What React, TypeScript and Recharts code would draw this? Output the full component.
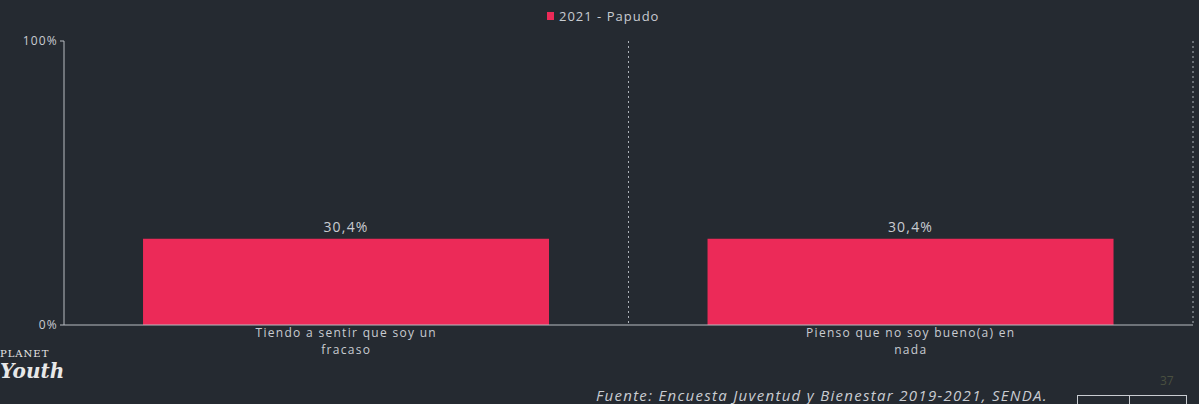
import { BarChart, Bar, XAxis, YAxis, CartesianGrid, Legend, LabelList } from "recharts";

const categories = ["Tiendo a sentir que soy un fracaso", "Pienso que no soy bueno(a) en nada"];
const tickLines = [
  ["Tiendo a sentir que soy un", "fracaso"],
  ["Pienso que no soy bueno(a) en", "nada"],
];
const papudo2021 = [30.4, 30.4];
const yTicks = [0, 100];

const BG = "#252a31";
const TXT = "#c9ccd1";
const BAR = "#ec2a58";
const FONT = "'Open Sans', sans-serif";

const data = categories.map((c, i) => ({ name: c, v: papudo2021[i] }));

function CatTick(props: any) {
  const { x, y, index } = props;
  const lines = tickLines[index] || [];
  return (
    <g>
      {lines.map((l, k) => (
        <text key={k} x={x} y={y + 4 + k * 16.5} textAnchor="middle" fill={TXT} fontSize={12} fontFamily={FONT} style={{ letterSpacing: 1.3 }}>
          {l}
        </text>
      ))}
    </g>
  );
}

function LegendBox() {
  return (
    <div style={{ display: "flex", alignItems: "center", color: TXT, fontSize: 13, letterSpacing: 1, fontFamily: FONT }}>
      <span style={{ width: 7, height: 8, background: BAR, display: "inline-block", marginRight: 5 }} />
      2021 - Papudo
    </div>
  );
}

export default function App() {
  return (
    <div style={{ position: "absolute", left: 0, top: 0, width: 1199, height: 404, background: BG, overflow: "hidden" }}>
      <BarChart
        width={1199}
        height={404}
        data={data}
        margin={{ top: 23, right: 6, bottom: 39, left: 8 }}
        barCategoryGap="14%"
      >
        <Legend
          verticalAlign="top"
          content={() => <LegendBox />}
          wrapperStyle={{ position: "absolute", top: 7, left: 547, width: 150 }}
        />
        <CartesianGrid
          horizontal={false}
          stroke="#aeb3ba"
          strokeDasharray="2 3"
          verticalCoordinatesGenerator={({ offset }: any) => [offset.left + offset.width / 2, offset.left + offset.width]}
        />
        <XAxis
          dataKey="name"
          height={40}
          interval={0}
          tickLine={false}
          axisLine={{ stroke: "#b9bcc2" }}
          tick={<CatTick />}
        />
        <YAxis
          width={56}
          domain={[0, 100]}
          ticks={yTicks}
          tickFormatter={(v: number) => `${v}%`}
          axisLine={{ stroke: "#b9bcc2" }}
          tickLine={{ stroke: "#b9bcc2" }}
          tickSize={4}
          tick={{ fill: TXT, fontSize: 12, fontFamily: FONT, style: { letterSpacing: 1.2 } }}
        />
        <Bar dataKey="v" fill={BAR} isAnimationActive={false}>
          <LabelList
            dataKey="v"
            position="top"
            offset={7}
            formatter={(v: any) => `${String(v).replace(".", ",")}%`}
            style={{ fill: TXT, fontSize: 14, letterSpacing: 1.2, fontFamily: FONT }}
          />
        </Bar>
      </BarChart>
      <div style={{ position: "absolute", left: 0, top: 349, color: "#e8e8e8", fontFamily: "'DejaVu Serif', serif", lineHeight: 1 }}>
        <div style={{ fontSize: 10, letterSpacing: 1 }}>PLANET</div>
        <div style={{ fontSize: 20, fontStyle: "italic", fontWeight: "bold", marginTop: 2 }}>Youth</div>
      </div>
      <div style={{ position: "absolute", left: 1160, top: 372, color: "#4a5040", fontSize: 12, fontFamily: FONT }}>37</div>
      <div
        style={{
          position: "absolute",
          left: 596,
          top: 385,
          color: TXT,
          fontSize: 15,
          letterSpacing: 1.3,
          fontStyle: "italic",
          fontFamily: FONT,
          whiteSpace: "nowrap",
        }}
      >
        Fuente: Encuesta Juventud y Bienestar 2019-2021, SENDA.
      </div>
      <div style={{ position: "absolute", left: 1077, top: 395, width: 108, height: 20, borderTop: "1px solid #c9ccd1", borderLeft: "1px solid #c9ccd1", borderRight: "1px solid #c9ccd1" }}>
        <div style={{ position: "absolute", left: 51, top: 0, width: 1, height: 20, background: "#c9ccd1" }} />
      </div>
    </div>
  );
}
